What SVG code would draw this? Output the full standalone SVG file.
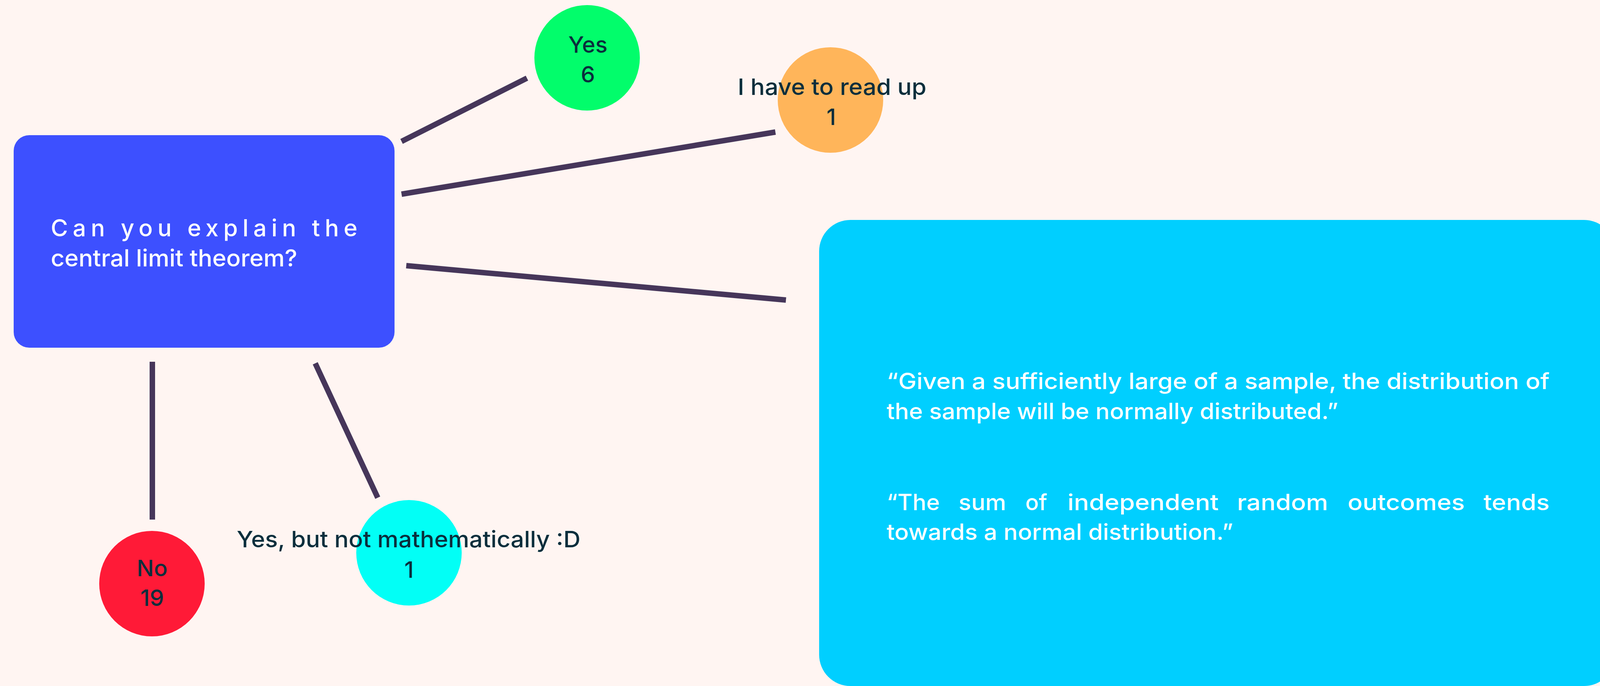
<svg xmlns="http://www.w3.org/2000/svg" width="4139" height="1756" viewBox="0 0 4139 1756">
<style>
.conn { stroke: #46365A; stroke-width: 14; stroke-linecap: butt; fill: none; }
.lbl { font-family: Inter, "Liberation Sans", sans-serif; font-weight: 500; font-size: 58px; fill: #0A2E3C; text-anchor: middle; }
.wt { font-family: Inter, "Liberation Sans", sans-serif; font-weight: 500; fill: #FFFFFF; }
.def { font-size: 57px; }
</style>
<rect x="0" y="0" width="4139" height="1756" fill="#FFF5F2"/>
<g id="connectors">
<line class="conn" x1="1028" y1="362" x2="1349" y2="200"/>
<line class="conn" x1="1028" y1="497" x2="1985" y2="338"/>
<line class="conn" x1="1040" y1="680" x2="2012" y2="768"/>
<line class="conn" x1="390" y1="926" x2="390" y2="1330"/>
<line class="conn" x1="807" y1="930" x2="967" y2="1274"/>
</g>
<g id="question">
<rect x="35" y="346" width="975" height="544" rx="40" ry="40" fill="#3D50FF"/>
<text class="wt" font-size="60" x="130" y="605" textLength="785" lengthAdjust="spacing">Can you explain the</text>
<text class="wt" font-size="60" x="130" y="682" textLength="631" lengthAdjust="spacingAndGlyphs">central limit theorem?</text>
</g>
<g id="yes">
<circle cx="1503" cy="148" r="135" fill="#02FD6B"/>
<text class="lbl" x="1505" y="135">Yes</text>
<text class="lbl" x="1505" y="211">6</text>
</g>
<g id="readup">
<circle cx="2126" cy="256" r="135" fill="#FFB55A"/>
<text class="lbl" x="2130" y="243" textLength="483" lengthAdjust="spacingAndGlyphs">I have to read up</text>
<text class="lbl" x="2128" y="320">1</text>
</g>
<g id="no">
<circle cx="389" cy="1494" r="135" fill="#FF1A37"/>
<text class="lbl" x="390" y="1475">No</text>
<text class="lbl" x="390" y="1551">19</text>
</g>
<g id="notmath">
<circle cx="1047" cy="1415" r="135" fill="#02FFF6"/>
<text class="lbl" x="1046" y="1401" textLength="880" lengthAdjust="spacingAndGlyphs">Yes, but not mathematically :D</text>
<text class="lbl" x="1047" y="1479">1</text>
</g>
<g id="definitions">
<rect x="2097" y="563" width="2038" height="1193" rx="80" ry="80" fill="#00CFFF"/>
<text class="wt def" x="2270" y="996" textLength="1697" lengthAdjust="spacingAndGlyphs">“Given a sufficiently large of a sample, the distribution of</text>
<text class="wt def" x="2270" y="1073" textLength="1156" lengthAdjust="spacingAndGlyphs">the sample will be normally distributed.”</text>
<text class="wt def" x="2270" y="1306" textLength="136" lengthAdjust="spacingAndGlyphs">“The</text>
<text class="wt def" x="2454" y="1306" textLength="122" lengthAdjust="spacingAndGlyphs">sum</text>
<text class="wt def" x="2625" y="1306" textLength="56" lengthAdjust="spacingAndGlyphs">of</text>
<text class="wt def" x="2733" y="1306" textLength="387" lengthAdjust="spacingAndGlyphs">independent</text>
<text class="wt def" x="3167" y="1306" textLength="233" lengthAdjust="spacingAndGlyphs">random</text>
<text class="wt def" x="3450" y="1306" textLength="300" lengthAdjust="spacingAndGlyphs">outcomes</text>
<text class="wt def" x="3798" y="1306" textLength="169" lengthAdjust="spacingAndGlyphs">tends</text>
<text class="wt def" x="2270" y="1382" textLength="887" lengthAdjust="spacingAndGlyphs">towards a normal distribution.”</text>
</g>
</svg>
